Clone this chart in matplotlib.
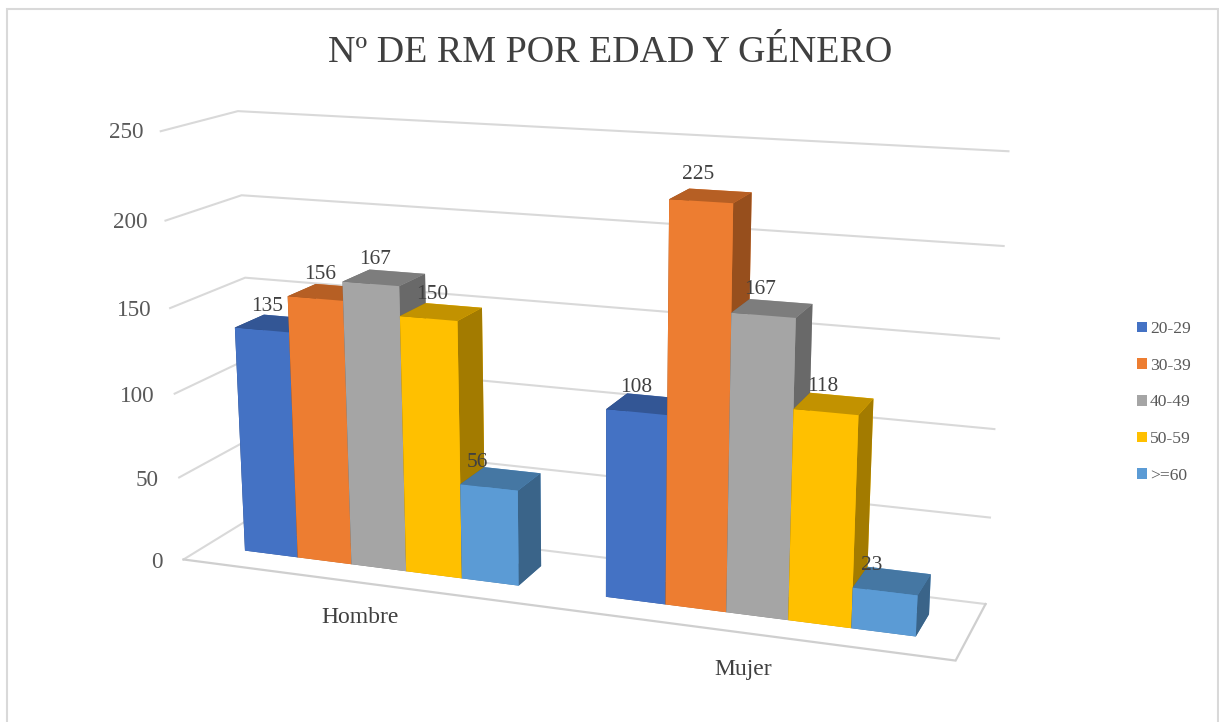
import numpy as np
import matplotlib
matplotlib.use("Agg")
import matplotlib.pyplot as plt
from matplotlib.lines import Line2D
from matplotlib.patches import Patch
from mpl_toolkits.mplot3d import proj3d

# ---- data ----
categories = ["Hombre", "Mujer"]
series_names = ["20-29", "30-39", "40-49", "50-59", ">=60"]
hombre_values = [135, 156, 167, 150, 56]
mujer_values = [108, 225, 167, 118, 23]
value_ticks = [0, 50, 100, 150, 200, 250]
title_text = "Nº DE RM POR EDAD Y GÉNERO"

# ---- style ----
front_colors = ["#4472C4", "#ED7D31", "#A5A5A5", "#FFC000", "#5B9BD5"]
top_colors = ["#335695", "#B65F24", "#7D7D7D", "#C29200", "#4577A3"]
side_colors = ["#294578", "#974F1D", "#696969", "#A37B00", "#3A6489"]
grid_color = "#D9D9D9"
floor_color = "#CFCFCF"
tick_color = "#595959"
label_color = "#404040"
serif = "Liberation Serif"

GAP = 1.5                     # Excel gap width: 150 %
BAR_W = 1 / (len(series_names) + GAP)
Y_FRONT, Y_BACK = 0.3, 0.7    # bar depth inside the floor
W, H = 1219, 722

# perspective camera: (category, depth, value) -> pixel position
cam_u = [329.2215, 87.9766, -0.124706, 183.4987]
cam_v = [11.2693, -12.0887, -1.740537, 559.4785]
cam_w = [-0.0594645, 0.0624724, -0.00020938, 1.0]
cam_d = [-1.0, 1.0, -1 / 250, 0.0]
M = np.array([cam_u, cam_v, cam_d, cam_w])

fig = plt.figure(figsize=(W / 100, H / 100), dpi=100, facecolor="white")
ax = fig.add_axes([0, 0, 1, 1], projection="3d")
ax.set_proj_type("ortho")      # switches off the line clipping of the default camera
ax.computed_zorder = False
ax.get_proj = lambda: M
ax.apply_aspect = lambda position=None: None
ax.set_axis_off()
ax.patch.set_visible(False)


def put_text(x, y, z, s, **kwargs):
    """Text at a 3D chart position, placed through the same camera as the bars."""
    u, v, _ = proj3d.proj_transform(np.array([x]), np.array([y]), np.array([z]), M)
    ax.text2D(float(u[0]), float(v[0]), s, transform=ax.transData, family=serif,
              zorder=50, **kwargs)


# walls and floor
for t in value_ticks:
    ax.plot([0, 0, 2], [0, 1, 1], [t, t, t], color=grid_color, lw=1.5, zorder=1,
            solid_joinstyle="miter")
ax.plot([0, 2, 2], [0, 0, 1], [0, 0, 0], color=floor_color, lw=1.6, zorder=1,
        solid_joinstyle="miter")

# bars, painted from the far (left) side to the near (right) side
z = 2
for c, vals in enumerate([hombre_values, mujer_values]):
    for s, v in enumerate(vals):
        x0 = c + BAR_W * (GAP / 2 + s)
        colors = [top_colors[s], top_colors[s], front_colors[s], front_colors[s],
                  side_colors[s], side_colors[s]]
        ax.bar3d([x0], [Y_FRONT], [0], BAR_W, Y_BACK - Y_FRONT, [v], color=colors,
                 shade=False, zorder=z, linewidth=0.3, edgecolor=None)
        z += 1

# data labels
nudges = [[6, 5, 5, 4, -11], [0, -3, -3, -3, -12]]
for c, vals in enumerate([hombre_values, mujer_values]):
    for s, v in enumerate(vals):
        xc = c + BAR_W * (GAP / 2 + s + 0.5) + nudges[c][s] / 360
        put_text(xc, Y_FRONT, v + 11.3, str(v), ha="center", va="baseline",
                 fontsize=15.4, color=label_color)

# value axis labels
for t in value_ticks:
    put_text(-0.04 + 0.015 * t / 250, -0.1, t, str(t), ha="right", va="center",
             fontsize=16.7, color=tick_color)

# category labels
for c, name in enumerate(categories):
    put_text(c + 0.5, 0, -21, name, ha="center", va="center",
             fontsize=17, color=label_color)

# the camera gives pixels, so the 2D view of the axes is the picture itself
ax.viewLim.set_points(np.array([[0.0, H], [W, 0.0]]))

# title
fig.text(610 / W, 1 - 53 / H, title_text, ha="center", va="center",
         family=serif, fontsize=27.4, color=label_color)

# legend
handles = [Patch(facecolor=col, edgecolor="none") for col in front_colors]
fig.legend(handles, series_names, loc="center left",
           bbox_to_anchor=(1137 / W, 1 - 402.5 / H), frameon=False,
           prop={"family": serif, "size": 12.6}, labelcolor=tick_color,
           handlelength=0.58, handleheight=0.58, handletextpad=0.15,
           labelspacing=1.18, borderpad=0, borderaxespad=0)

# chart frame, open at the bottom of the picture
fig.add_artist(Line2D([7 / W, 7 / W, 1218 / W, 1218 / W],
                      [0, 1 - 9 / H, 1 - 9 / H, 0], color=grid_color, lw=1.5,
                      solid_joinstyle="miter"))

fig.savefig("out.png", dpi=100, facecolor="white")
